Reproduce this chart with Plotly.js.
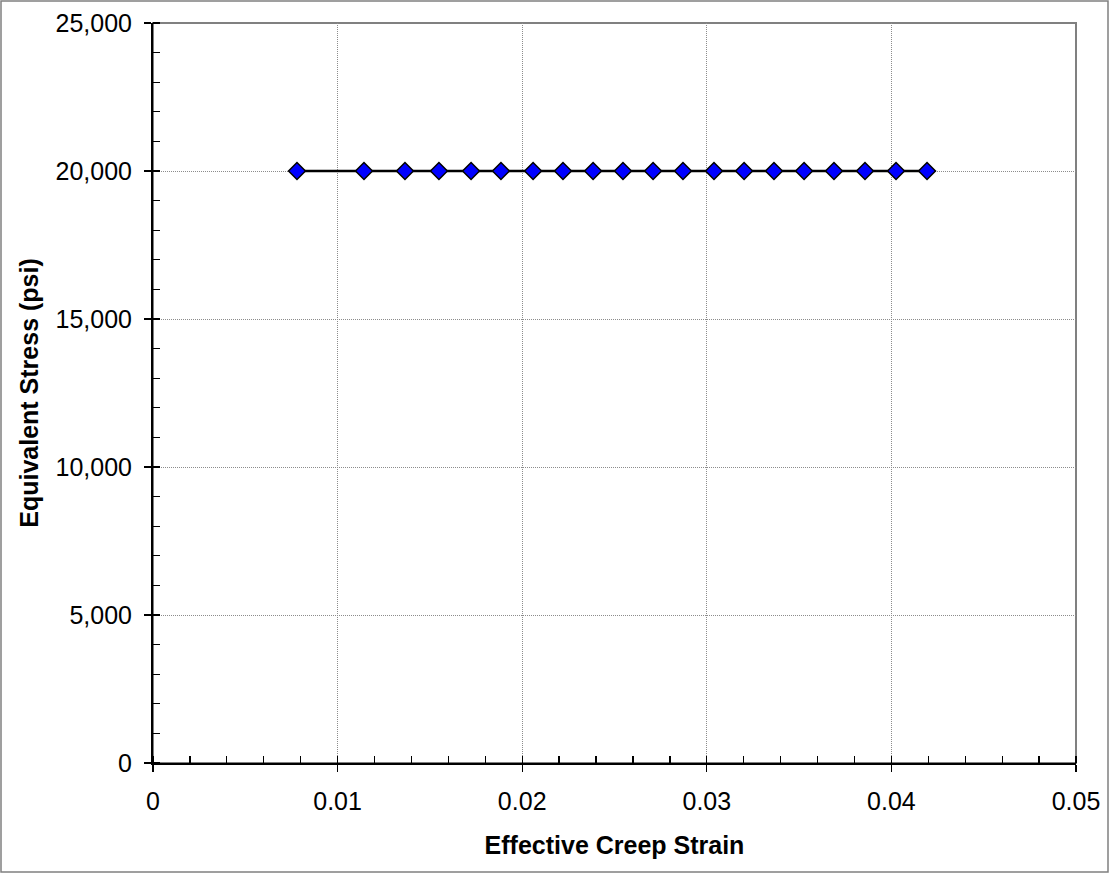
<!DOCTYPE html>
<html>
<head>
<meta charset="utf-8">
<script src="https://cdn.plot.ly/plotly-3.0.1.min.js"></script>
<style>html,body{margin:0;padding:0;background:#fff;}#chart{width:1110px;height:874px;}</style>
</head>
<body>
<div id="chart"></div>
<script>
const strain = [0.0078, 0.01143, 0.01365, 0.01549, 0.01723, 0.01885, 0.02059, 0.02221, 0.02384, 0.02546, 0.02709, 0.02871, 0.03039, 0.03202, 0.03364, 0.03527, 0.03689, 0.03857, 0.04025, 0.04193];
const stress = [20000, 20000, 20000, 20000, 20000, 20000, 20000, 20000, 20000, 20000, 20000, 20000, 20000, 20000, 20000, 20000, 20000, 20000, 20000, 20000];
const xTitle = 'Effective Creep Strain';
const yTitle = 'Equivalent Stress (psi)';

const FAM = 'Liberation Sans, Arial, sans-serif';
const L = 153, T = 23, R = 1076, B = 763;
const pw = R - L, ph = B - T;

const trace = {
  x: strain, y: stress, type: 'scatter', mode: 'lines+markers',
  line: {color: '#000', width: 2.5},
  marker: {symbol: 'diamond', size: 13, color: '#0000ff', line: {color: '#000', width: 1.5}},
  showlegend: false, hoverinfo: 'x+y'
};

const layout = {
  width: 1110, height: 874,
  margin: {l: L, t: T, r: 1110 - R, b: 874 - B, pad: 0},
  paper_bgcolor: '#fff', plot_bgcolor: '#fff',
  font: {family: FAM, size: 25, color: '#000'},
  showlegend: false,
  xaxis: {
    range: [0, 0.05], dtick: 0.01, tick0: 0,
    showline: true, linecolor: '#000', linewidth: 2,
    ticks: 'outside', ticklen: 7, tickwidth: 1.3, tickcolor: '#000',
    showgrid: true, gridcolor: '#8c8c8c', griddash: '1px,1px', gridwidth: 1,
    zeroline: false, automargin: false,
    ticklabelstandoff: 8,
    tickfont: {family: FAM, size: 25, color: '#000'},
    minor: {dtick: 0.002, ticks: 'inside', ticklen: 7, tickwidth: 1.3, tickcolor: '#000', showgrid: false},
    title: {text: '<b>' + xTitle + '</b>', font: {family: FAM, size: 25, color: '#000'}, standoff: 22}
  },
  yaxis: {
    range: [0, 25000], dtick: 5000, tick0: 0,
    showline: true, linecolor: '#000', linewidth: 2,
    ticks: 'outside', ticklen: 7, tickwidth: 1.3, tickcolor: '#000',
    showgrid: true, gridcolor: '#8c8c8c', griddash: '1px,1px', gridwidth: 1,
    zeroline: false, automargin: false,
    tickformat: ',d',
    ticklabelstandoff: 7,
    tickfont: {family: FAM, size: 25, color: '#000'},
    minor: {dtick: 1000, ticks: 'inside', ticklen: 7, tickwidth: 1.3, tickcolor: '#000', showgrid: false},
    title: {text: '<b>' + yTitle + '</b>', font: {family: FAM, size: 25, color: '#000'}, standoff: 10}
  },
  xaxis2: {
    overlaying: 'x', range: [0, 0.05], dtick: 0.01, tick0: 0,
    ticks: 'inside', ticklen: 7, tickwidth: 1.3, tickcolor: '#000',
    showticklabels: false, showgrid: false, zeroline: false, showline: false, side: 'bottom'
  },
  yaxis2: {
    overlaying: 'y', range: [0, 25000], dtick: 5000, tick0: 0,
    ticks: 'inside', ticklen: 7, tickwidth: 1.3, tickcolor: '#000',
    showticklabels: false, showgrid: false, zeroline: false, showline: false, side: 'left'
  },
  shapes: [
    {type: 'rect', xref: 'paper', yref: 'paper', x0: 0, x1: 1, y0: 0, y1: 1,
     line: {color: '#808080', width: 2}, fillcolor: 'rgba(0,0,0,0)', layer: 'below'},
    {type: 'rect', xref: 'paper', yref: 'paper',
     x0: (1 - L) / pw, x1: (1108 - L) / pw, y0: (B - 872) / ph, y1: (B - 1) / ph,
     line: {color: '#808080', width: 1.5}, fillcolor: 'rgba(0,0,0,0)', layer: 'below'}
  ]
};

const dummy = {x: [0], y: [0], xaxis: 'x2', yaxis: 'y2', mode: 'markers', marker: {opacity: 0}, showlegend: false, hoverinfo: 'skip'};

Plotly.newPlot('chart', [trace, dummy], layout, {displayModeBar: false, staticPlot: true});
</script>
</body>
</html>
